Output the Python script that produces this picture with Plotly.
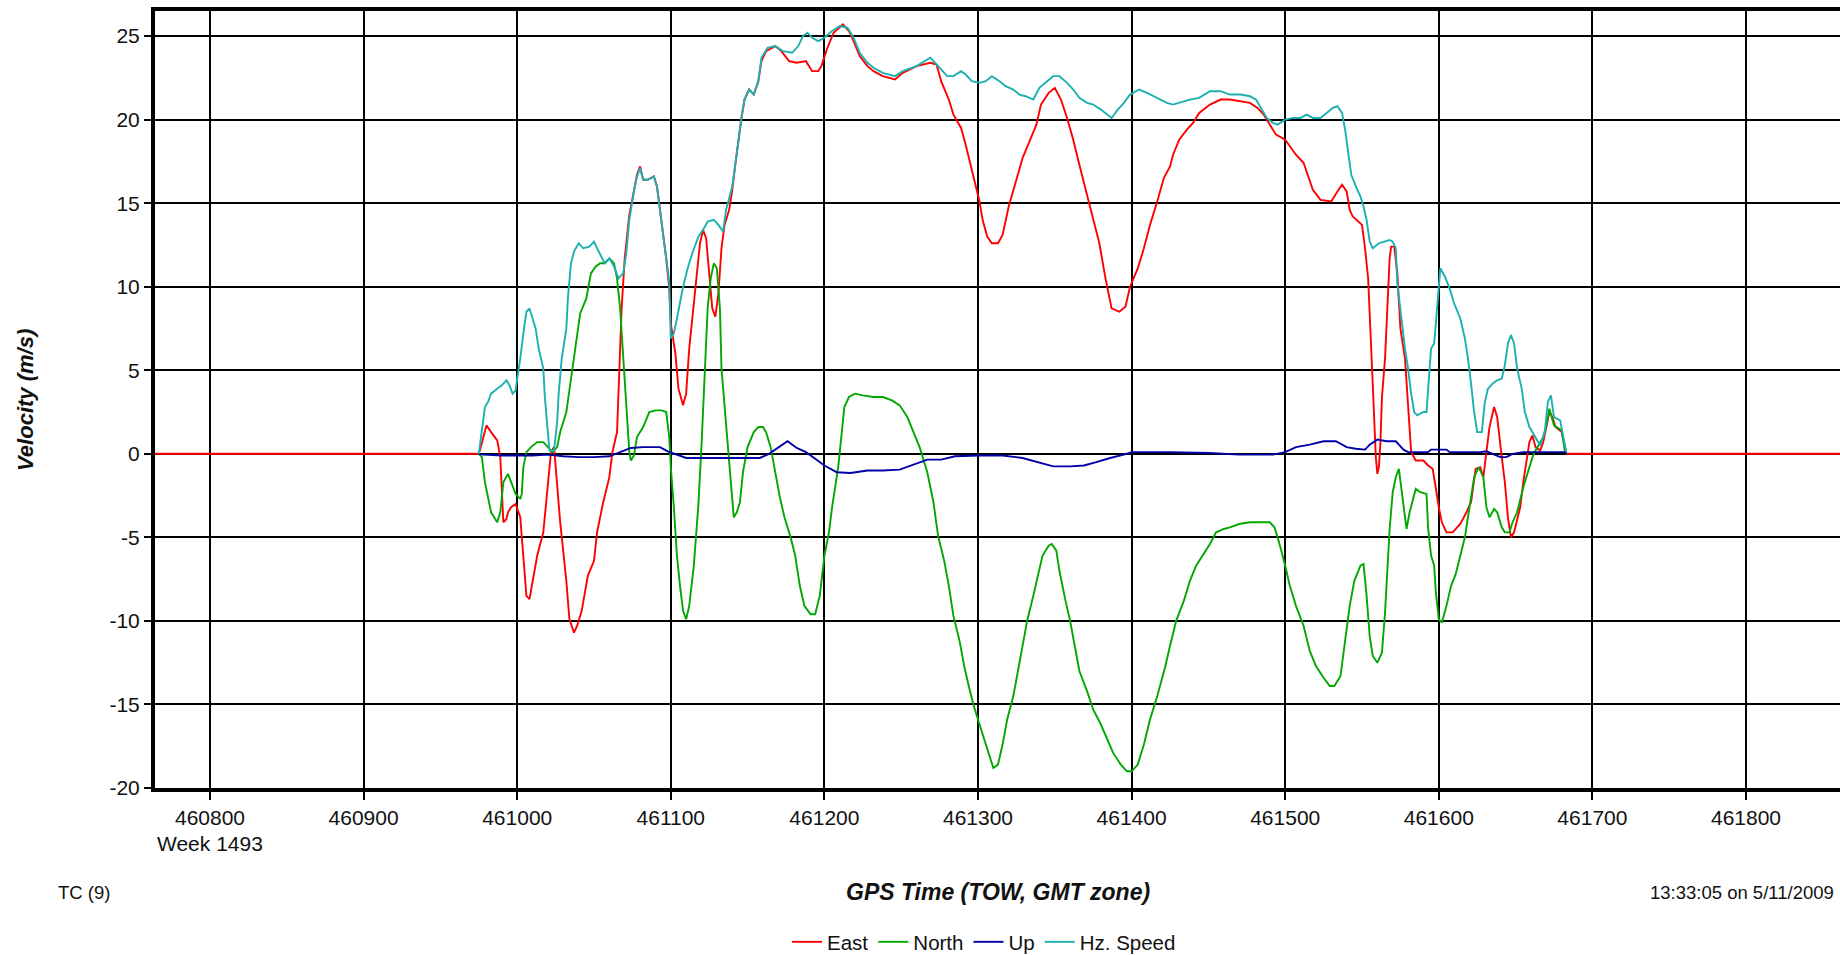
import plotly.graph_objects as go

# ---------------- data (GPS time of week [s], velocity [m/s]) ----------------
EAST = [
    (460700, 0), (460975, 0), (460976, 0.3), (460980, 1.7), (460983, 1.3), (460987, 0.8),
    (460989, -0.2), (460991, -4.1), (460993, -3.9), (460994, -3.5), (460996, -3.2),
    (460999, -3.0), (461002, -3.8), (461004, -6.1), (461006, -8.5), (461008, -8.7),
    (461010, -7.6), (461013, -6.1), (461017, -4.7), (461020, -1.7), (461022, 0.1),
    (461024, 0.4), (461026, -2.0), (461028, -4.1), (461032, -7.6), (461034, -9.9),
    (461037, -10.7), (461039, -10.3), (461042, -9.4), (461046, -7.3), (461050, -6.4),
    (461052, -4.7), (461056, -2.9), (461060, -1.4), (461062, 0.1), (461065, 1.3),
    (461068, 8.7), (461070, 11.7), (461073, 14.3), (461076, 15.8), (461078, 16.7),
    (461080, 17.2), (461082, 16.4), (461085, 16.4), (461089, 16.6), (461091, 16.0),
    (461093, 14.6), (461095, 13.1), (461097, 11.7), (461099, 9.9), (461100, 7.8),
    (461103, 6.0), (461105, 3.9), (461108, 2.9), (461110, 3.6), (461112, 6.3),
    (461114, 8.1), (461117, 10.5), (461119, 12.6), (461121, 13.4), (461123, 12.9),
    (461125, 10.8), (461127, 8.7), (461129, 8.2), (461131, 9.6), (461133, 12.3),
    (461135, 13.7), (461138, 14.6), (461140, 15.8), (461142, 17.3), (461144, 18.8),
    (461146, 20.1), (461148, 21.2), (461151, 21.8), (461154, 21.5), (461157, 22.3),
    (461159, 23.5), (461162, 24.1), (461168, 24.4), (461172, 24.1), (461177, 23.5),
    (461182, 23.4), (461188, 23.5), (461192, 22.9), (461196, 22.9), (461198, 23.2),
    (461202, 24.3), (461206, 25.2), (461212, 25.7), (461216, 25.3), (461219, 24.7),
    (461223, 23.8), (461228, 23.2), (461232, 22.9), (461238, 22.6), (461246, 22.4),
    (461251, 22.8), (461260, 23.2), (461269, 23.4), (461273, 23.3), (461276, 22.3),
    (461281, 21.2), (461284, 20.3), (461289, 19.5), (461292, 18.5), (461295, 17.3),
    (461298, 16.1), (461301, 15.1), (461303, 14.0), (461306, 13.0), (461309, 12.6),
    (461313, 12.6), (461316, 13.1), (461320, 14.8), (461325, 16.4), (461329, 17.7),
    (461334, 18.8), (461338, 19.7), (461341, 20.9), (461346, 21.6), (461350, 21.9),
    (461354, 21.2), (461358, 20.1), (461362, 18.8), (461366, 17.3), (461372, 15.2),
    (461375, 14.0), (461379, 12.6), (461383, 10.5), (461387, 8.7), (461392, 8.5),
    (461396, 8.8), (461399, 10.0), (461404, 11.1), (461408, 12.3), (461412, 13.7),
    (461417, 15.2), (461421, 16.5), (461425, 17.2), (461427, 17.9), (461431, 18.8),
    (461436, 19.4), (461440, 19.8), (461444, 20.4), (461451, 20.9), (461458, 21.2),
    (461464, 21.2), (461470, 21.1), (461477, 21.0), (461482, 20.7), (461486, 20.3),
    (461490, 19.7), (461494, 19.1), (461500, 18.8), (461504, 18.3), (461507, 17.9),
    (461512, 17.4), (461515, 16.6), (461518, 15.8), (461523, 15.2), (461530, 15.1),
    (461534, 15.7), (461537, 16.1), (461540, 15.7), (461542, 14.6), (461544, 14.2),
    (461548, 13.9), (461550, 13.7), (461552, 12.3), (461554, 10.5), (461556, 6.3),
    (461557, 3.9), (461558, 1.6), (461559, -0.2), (461560, -1.2), (461561, -0.8),
    (461562, 0.7), (461563, 3.4), (461565, 5.7), (461566, 7.5), (461567, 9.4),
    (461568, 11.7), (461569, 12.4), (461571, 12.4), (461573, 10.8), (461575, 7.5),
    (461578, 5.7), (461580, 2.8), (461582, 0.1), (461585, -0.4), (461590, -0.4),
    (461593, -0.7), (461596, -0.9), (461598, -2.0), (461600, -3.2), (461602, -4.1),
    (461605, -4.7), (461609, -4.7), (461614, -4.2), (461618, -3.5), (461621, -2.9),
    (461624, -0.9), (461627, -0.8), (461629, -1.4), (461631, 0.1), (461633, 1.6),
    (461636, 2.8), (461638, 2.2), (461641, -0.2), (461643, -1.7), (461645, -3.8),
    (461647, -5.0), (461649, -4.7), (461653, -3.2), (461655, -1.7), (461657, -0.5),
    (461659, 0.7), (461661, 1.1), (461663, 0.4), (461666, 0.2), (461668, 0.7),
    (461670, 1.6), (461672, 2.5), (461674, 2.2), (461676, 1.6), (461680, 1.3),
    (461682, 0.4), (461683, 0), (461900, 0),
]

NORTH = [
    (460975, 0), (460977, -0.2), (460979, -1.7), (460981, -2.6), (460983, -3.5),
    (460985, -3.8), (460987, -4.1), (460989, -3.5), (460991, -1.7), (460994, -1.2),
    (460996, -1.7), (460999, -2.4), (461002, -2.7), (461003, -2.4), (461004, -0.8),
    (461006, 0.1), (461009, 0.4), (461013, 0.7), (461017, 0.7), (461020, 0.4),
    (461023, 0.1), (461026, 0.4), (461028, 1.3), (461032, 2.5), (461035, 4.5),
    (461038, 6.6), (461041, 8.4), (461045, 9.3), (461048, 10.8), (461051, 11.2),
    (461054, 11.4), (461057, 11.4), (461060, 11.7), (461063, 11.4), (461065, 10.5),
    (461067, 8.7), (461069, 5.7), (461071, 2.8), (461073, 0.1), (461074, -0.4),
    (461076, -0.1), (461078, 1.0), (461082, 1.6), (461086, 2.5), (461090, 2.6),
    (461094, 2.6), (461097, 2.5), (461099, 1.0), (461100, -0.8), (461102, -3.2),
    (461104, -6.1), (461106, -7.9), (461108, -9.4), (461110, -9.9), (461112, -9.1),
    (461115, -6.7), (461117, -4.1), (461118, -3.0), (461120, 0.5), (461122, 5.0),
    (461124, 8.7), (461126, 10.5), (461128, 11.4), (461130, 11.1), (461132, 8.7),
    (461133, 5.1), (461135, 2.8), (461137, 0.4), (461139, -2.0), (461141, -3.8),
    (461143, -3.5), (461145, -2.9), (461147, -1.1), (461150, 0.4), (461154, 1.3),
    (461157, 1.6), (461160, 1.6), (461162, 1.3), (461165, 0.4), (461168, -1.1),
    (461171, -2.6), (461174, -3.8), (461178, -5.0), (461181, -6.1), (461184, -7.9),
    (461187, -9.1), (461191, -9.6), (461194, -9.6), (461197, -8.5), (461200, -6.1),
    (461203, -4.7), (461205, -3.2), (461207, -2.0), (461209, -0.8), (461211, 1.0),
    (461213, 2.8), (461216, 3.4), (461220, 3.6), (461225, 3.5), (461232, 3.4),
    (461238, 3.4), (461244, 3.2), (461249, 2.9), (461254, 2.2), (461258, 1.3),
    (461262, 0.4), (461267, -1.1), (461271, -2.9), (461274, -4.9), (461278, -6.4),
    (461281, -7.9), (461284, -9.7), (461288, -11.2), (461291, -12.7), (461294, -13.9),
    (461297, -15.0), (461301, -16.2), (461304, -17.1), (461307, -18.0), (461310, -18.8),
    (461313, -18.6), (461316, -17.4), (461319, -15.9), (461323, -14.5), (461326, -13.0),
    (461329, -11.5), (461332, -10.0), (461336, -8.5), (461339, -7.3), (461342, -6.1),
    (461346, -5.5), (461348, -5.4), (461351, -5.8), (461353, -7.0), (461357, -8.8),
    (461360, -10.0), (461363, -11.5), (461366, -13.0), (461371, -14.2), (461375, -15.3),
    (461380, -16.2), (461384, -17.1), (461388, -17.9), (461393, -18.6), (461397, -19.0),
    (461400, -19.0), (461404, -18.6), (461408, -17.4), (461412, -15.9), (461417, -14.4),
    (461422, -12.7), (461425, -11.5), (461429, -10.0), (461434, -8.8), (461438, -7.6),
    (461442, -6.7), (461447, -6.0), (461451, -5.4), (461455, -4.7), (461460, -4.5),
    (461464, -4.4), (461470, -4.2), (461477, -4.1), (461483, -4.1), (461490, -4.1),
    (461493, -4.4), (461496, -5.3), (461500, -6.7), (461503, -7.9), (461507, -9.1),
    (461512, -10.3), (461516, -11.8), (461520, -12.7), (461525, -13.4), (461529, -13.9),
    (461532, -13.9), (461536, -13.3), (461539, -11.2), (461542, -9.1), (461545, -7.6),
    (461549, -6.7), (461551, -6.6), (461553, -8.5), (461555, -10.9), (461557, -12.1),
    (461560, -12.5), (461563, -11.9), (461565, -9.5), (461567, -6.0), (461568, -4.5),
    (461570, -2.3), (461572, -1.4), (461574, -0.9), (461576, -2.3), (461578, -4.0),
    (461579, -4.5), (461581, -3.5), (461583, -2.7), (461585, -2.1), (461588, -2.3),
    (461592, -2.4), (461593, -4.4), (461595, -6.1), (461597, -6.7), (461598, -8.2),
    (461600, -9.9), (461602, -10.1), (461605, -9.1), (461608, -7.9), (461611, -7.2),
    (461614, -6.1), (461617, -5.0), (461620, -3.2), (461623, -1.4), (461626, -0.8),
    (461629, -1.4), (461631, -3.2), (461633, -3.8), (461636, -3.3), (461638, -3.5),
    (461641, -4.4), (461643, -4.7), (461646, -4.7), (461648, -4.1), (461651, -3.5),
    (461655, -2.0), (461658, -1.1), (461661, -0.2), (461663, 0.2), (461668, 1.0),
    (461670, 1.7), (461672, 2.7), (461675, 1.7), (461680, 1.4), (461682, 0.2),
    (461683, 0),
]

UP = [
    (460975, 0), (460978, -0.05), (460990, -0.1), (461000, -0.1), (461010, -0.1),
    (461020, -0.05), (461030, -0.15), (461040, -0.2), (461050, -0.2), (461060, -0.15),
    (461067, 0.1), (461074, 0.35), (461082, 0.4), (461093, 0.4), (461098, 0.15),
    (461106, -0.1), (461110, -0.25), (461130, -0.25), (461145, -0.25), (461158, -0.25),
    (461164, 0.0), (461171, 0.45), (461176, 0.75), (461182, 0.35), (461188, 0.1),
    (461194, -0.3), (461200, -0.7), (461208, -1.1), (461217, -1.15), (461228, -1.0),
    (461238, -1.0), (461249, -0.95), (461258, -0.65), (461267, -0.35), (461276, -0.35),
    (461285, -0.15), (461301, -0.1), (461316, -0.1), (461329, -0.25), (461340, -0.5),
    (461349, -0.75), (461360, -0.75), (461369, -0.7), (461377, -0.5), (461386, -0.25),
    (461395, -0.05), (461400, 0.1), (461425, 0.1), (461451, 0.05), (461470, -0.05),
    (461492, -0.05), (461500, 0.1), (461507, 0.4), (461516, 0.55), (461525, 0.75),
    (461533, 0.75), (461540, 0.4), (461546, 0.3), (461552, 0.25), (461555, 0.55),
    (461560, 0.85), (461566, 0.75), (461572, 0.75), (461574, 0.55), (461577, 0.25),
    (461580, 0.1), (461593, 0.1), (461595, 0.25), (461605, 0.25), (461607, 0.1),
    (461627, 0.1), (461631, 0.15), (461640, -0.2), (461644, -0.2), (461648, 0.0),
    (461655, 0.1), (461682, 0.1), (461683, 0),
]

HZ_SPEED = [
    (460975, 0), (460976, 0.7), (460978, 1.9), (460979, 2.8), (460981, 3.1),
    (460983, 3.6), (460987, 3.9), (460990, 4.1), (460993, 4.4), (460995, 4.1),
    (460997, 3.6), (460999, 3.8), (461000, 4.5), (461002, 5.7), (461004, 7.2),
    (461006, 8.5), (461008, 8.7), (461010, 8.1), (461012, 7.5), (461014, 6.3),
    (461017, 5.1), (461018, 3.4), (461020, 1.3), (461021, 0.2), (461024, 0.2),
    (461026, 1.9), (461027, 3.6), (461029, 5.7), (461032, 7.5), (461033, 9.3),
    (461035, 11.4), (461037, 12.1), (461040, 12.6), (461043, 12.3), (461047, 12.4),
    (461050, 12.7), (461052, 12.3), (461055, 11.7), (461057, 11.4), (461060, 11.7),
    (461063, 11.2), (461066, 10.5), (461069, 10.8), (461071, 12.0), (461073, 14.0),
    (461076, 15.7), (461078, 16.6), (461080, 17.1), (461082, 16.4), (461085, 16.4),
    (461089, 16.6), (461091, 16.0), (461093, 14.6), (461095, 13.1), (461097, 11.7),
    (461099, 10.3), (461100, 6.9), (461102, 7.2), (461104, 8.1), (461106, 9.0),
    (461108, 10.0), (461111, 11.1), (461114, 12.0), (461118, 13.0), (461121, 13.4),
    (461124, 13.9), (461128, 14.0), (461131, 13.7), (461134, 13.3), (461136, 14.6),
    (461140, 16.0), (461142, 17.3), (461144, 18.8), (461146, 20.1), (461148, 21.2),
    (461151, 21.8), (461154, 21.5), (461157, 22.3), (461159, 23.7), (461163, 24.3),
    (461168, 24.4), (461173, 24.1), (461179, 24.0), (461183, 24.4), (461186, 25.0),
    (461189, 25.2), (461192, 24.9), (461196, 24.7), (461200, 24.9), (461205, 25.3),
    (461210, 25.6), (461215, 25.5), (461219, 24.9), (461223, 24.0), (461228, 23.4),
    (461232, 23.1), (461238, 22.8), (461246, 22.6), (461251, 22.9), (461260, 23.2),
    (461269, 23.7), (461271, 23.5), (461275, 23.1), (461280, 22.6), (461284, 22.6),
    (461289, 22.9), (461292, 22.7), (461296, 22.3), (461301, 22.2), (461305, 22.3),
    (461309, 22.6), (461314, 22.3), (461318, 22.0), (461323, 21.8), (461327, 21.5),
    (461331, 21.4), (461336, 21.2), (461340, 21.9), (461345, 22.3), (461349, 22.6),
    (461353, 22.6), (461358, 22.2), (461362, 21.8), (461366, 21.3), (461371, 21.0),
    (461375, 20.9), (461380, 20.6), (461384, 20.3), (461387, 20.1), (461391, 20.6),
    (461395, 21.0), (461399, 21.5), (461405, 21.8), (461410, 21.6), (461417, 21.3),
    (461423, 21.0), (461427, 20.9), (461431, 21.0), (461438, 21.2), (461444, 21.3),
    (461451, 21.7), (461458, 21.7), (461464, 21.5), (461471, 21.5), (461477, 21.4),
    (461481, 21.2), (461485, 20.6), (461488, 20.1), (461492, 19.8), (461495, 19.7),
    (461500, 20.0), (461505, 20.1), (461510, 20.1), (461514, 20.3), (461518, 20.1),
    (461523, 20.1), (461527, 20.4), (461531, 20.7), (461534, 20.8), (461537, 20.4),
    (461539, 19.4), (461541, 17.9), (461543, 16.7), (461546, 16.0), (461549, 15.4),
    (461551, 14.8), (461553, 14.0), (461555, 12.7), (461557, 12.3), (461561, 12.6),
    (461564, 12.7), (461568, 12.8), (461570, 12.7), (461572, 12.3), (461573, 10.2),
    (461576, 7.8), (461578, 6.3), (461580, 5.1), (461582, 3.6), (461584, 2.5),
    (461586, 2.3), (461590, 2.5), (461592, 2.5), (461594, 5.1), (461595, 6.3),
    (461597, 6.6), (461599, 8.7), (461600, 9.9), (461601, 11.1), (461604, 10.6),
    (461607, 9.9), (461610, 9.0), (461614, 8.1), (461617, 6.9), (461619, 5.7),
    (461621, 4.2), (461623, 2.5), (461625, 1.3), (461628, 1.3), (461630, 3.1),
    (461632, 3.9), (461635, 4.2), (461638, 4.4), (461641, 4.5), (461643, 5.3),
    (461645, 6.6), (461647, 7.1), (461649, 6.6), (461651, 5.1), (461654, 3.9),
    (461656, 2.5), (461659, 1.6), (461662, 1.1), (461666, 0.5), (461669, 1.3),
    (461671, 3.1), (461673, 3.5), (461675, 2.2), (461679, 2.0), (461681, 1.0),
    (461683, 0.1),
]

SERIES_NAMES = ["East", "North", "Up", "Hz. Speed"]
SERIES_DATA = [EAST, NORTH, UP, HZ_SPEED]
SERIES_COLORS = ["#FF0000", "#00A800", "#0000A8", "#1CB0B0"]

X_TICKS = [460800, 460900, 461000, 461100, 461200, 461300, 461400, 461500, 461600, 461700, 461800]
Y_TICKS = [-20, -15, -10, -5, 0, 5, 10, 15, 20, 25]
X_RANGE = [460764.2, 461861.2]
Y_RANGE = [-20, 26.5]

# ---------------- figure ----------------
W, H = 1840, 955
L, R, T, B = 155, 0, 11, 167
PW, PH = W - L - R, H - T - B
FONT = "Liberation Sans, Arial, Helvetica, sans-serif"


def px(xp):
    return (xp - L) / PW


def py(yp):
    return (H - B - yp) / PH


fig = go.Figure()
for name, pts, col in zip(SERIES_NAMES, SERIES_DATA, SERIES_COLORS):
    fig.add_trace(go.Scatter(
        x=[p[0] for p in pts], y=[p[1] for p in pts], mode="lines", name=name,
        line=dict(color=col, width=1.9), hoverinfo="x+y+name",
    ))

fig.update_layout(
    width=W, height=H,
    margin=dict(l=L, r=R, t=T, b=B, pad=0, autoexpand=False),
    paper_bgcolor="white", plot_bgcolor="white",
    font=dict(family=FONT, color="#111111", size=21),
    showlegend=True,
    legend=dict(
        orientation="h", xref="container", yref="container",
        x=984 / W, xanchor="center", y=(H - 942) / H, yanchor="middle",
        font=dict(family=FONT, size=20.5, color="#111111"), itemwidth=30,
        bgcolor="rgba(0,0,0,0)", tracegroupgap=0,
    ),
)

fig.update_xaxes(
    range=X_RANGE, tickmode="array", tickvals=X_TICKS, ticktext=[str(v) for v in X_TICKS],
    showgrid=True, gridcolor="black", gridwidth=2, zeroline=False,
    showline=True, linecolor="black", linewidth=4, mirror=True,
    ticks="outside", ticklen=8, tickwidth=2, tickcolor="black",
    tickfont=dict(family=FONT, size=21, color="#111111"),
)
fig.update_yaxes(
    range=Y_RANGE, tickmode="array", tickvals=Y_TICKS, ticktext=[str(v) for v in Y_TICKS],
    showgrid=True, gridcolor="black", gridwidth=2, zeroline=False,
    showline=True, linecolor="black", linewidth=4, mirror=False,
    ticks="outside", ticklen=7, tickwidth=2, tickcolor="black",
    tickfont=dict(family=FONT, size=21, color="#111111"),
)

bi = dict(family=FONT, size=23, color="#111111", weight="bold", style="italic")
fig.add_annotation(text="Velocity (m/s)", xref="paper", yref="paper", x=px(26), y=py(400),
                   xanchor="center", yanchor="middle", textangle=-90, showarrow=False,
                   font=dict(family=FONT, size=22, color="#111111", weight="bold", style="italic"))
fig.add_annotation(text="GPS Time (TOW, GMT zone)", xref="paper", yref="paper", x=px(998), y=py(892),
                   xanchor="center", yanchor="middle", showarrow=False, font=bi)
fig.add_annotation(text="Week 1493", xref="paper", yref="paper", x=px(155), y=py(843),
                   xanchor="left", yanchor="middle", showarrow=False,
                   font=dict(family=FONT, size=21, color="#111111"))
fig.add_annotation(text="TC (9)", xref="paper", yref="paper", x=px(56), y=py(892),
                   xanchor="left", yanchor="middle", showarrow=False,
                   font=dict(family=FONT, size=18.5, color="#111111"))
fig.add_annotation(text="13:33:05 on 5/11/2009", xref="paper", yref="paper", x=px(1836), y=py(892),
                   xanchor="right", yanchor="middle", showarrow=False,
                   font=dict(family=FONT, size=18.5, color="#111111"))

fig.write_html(
    "out.html",
    config={"displayModeBar": False},
    post_script="document.body.style.margin='0';document.body.style.overflow='hidden';",
)
